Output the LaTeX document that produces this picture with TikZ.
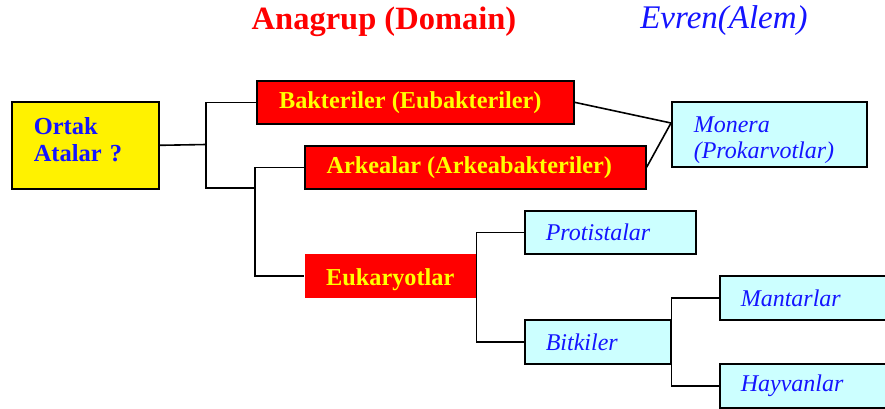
\documentclass[tikz,border=0pt]{standalone}
\usepackage{fontspec}
\setmainfont{Liberation Serif}
\definecolor{boxred}{RGB}{255,0,0}
\definecolor{txtyellow}{RGB}{255,255,0}
\definecolor{txtblue}{RGB}{20,20,255}
\definecolor{lightcyan}{RGB}{204,255,255}
\begin{document}
\begin{tikzpicture}[x=1pt,y=-1pt,
  link/.style={draw=black, line width=1.6pt},
  basebox/.style={rectangle, inner sep=0pt, anchor=north west},
  rootbox/.style={basebox, draw=black, line width=1.6pt, fill=yellow,
    text=txtblue, font=\fontsize{24.5}{27}\selectfont\bfseries, align=left},
  domainbox/.style={basebox, draw=black, line width=1.6pt, fill=boxred,
    text=txtyellow, font=\fontsize{24.3}{26}\selectfont\bfseries},
  kingbox/.style={basebox, draw=black, line width=1.6pt, fill=lightcyan,
    text=txtblue, font=\fontsize{24}{26}\selectfont\itshape, align=left},
  heading/.style={inner sep=0pt}
]
\clip (0,0) rectangle (885,408);
\fill[white] (0,0) rectangle (885,408);

% column headings
\node[heading, text=boxred, font=\fontsize{32.5}{36}\selectfont\bfseries] (hdom) at (384,22) {Anagrup (Domain)};
\node[heading, text=txtblue, font=\fontsize{33}{36}\selectfont\itshape] (hking) at (724,21) {Evren(Alem)};

% root
\node[rootbox, minimum width=147, minimum height=87, text width=103, inner xsep=22] (ortak) at (11,101) {Ortak\\Atalar ?\par\vspace{11pt}};

% domains
\node[domainbox, minimum width=317, minimum height=43] (bak) at (256,80) {Bakteriler (Eubakteriler)\hspace*{10pt}};
\node[domainbox, minimum width=341, minimum height=43] (arke) at (304,145) {Arkealar (Arkeabakteriler)\hspace*{12pt}};
\node[domainbox, draw=none, minimum width=171, minimum height=44, text height=25pt, text depth=6pt] (euk) at (304,253) {Eukaryotlar};

% kingdoms
\node[kingbox, minimum width=195, minimum height=65, text width=151, inner xsep=22] (mon) at (671,101) {\rule{0pt}{27pt}Monera\\(Prokarvotlar)};
\node[kingbox, minimum width=171, minimum height=43, text width=129, inner xsep=21] (prot) at (524,210) {Protistalar};
\node[kingbox, minimum width=146, minimum height=44, text width=104, inner xsep=21] (bit) at (524,319) {Bitkiler};
\node[kingbox, minimum width=175, minimum height=44, text width=133, inner xsep=21] (mant) at (719,275) {Mantarlar};
\node[kingbox, minimum width=175, minimum height=44, text width=133, inner xsep=21] (hayv) at (719,363) {Hayvanlar};

% branching points
\coordinate (s1) at (206,144.5);
\coordinate (s2) at (255,188);
\coordinate (m1) at (671,123);

% tree connectors
\draw[link] (ortak.east) -- (s1);
\draw[link] (bak.west) -| (s1) |- (s2);
\draw[link] (arke.west) -| (s2) |- (euk.west);
\draw[link] (prot.west) -| (euk.east) |- (bit.west);
\draw[link] (mant.west) -| (bit.east) |- (hayv.west);
\draw[link] (bak.east) -- (m1);
\draw[link] (arke.east) -- (m1);
\end{tikzpicture}
\end{document}
